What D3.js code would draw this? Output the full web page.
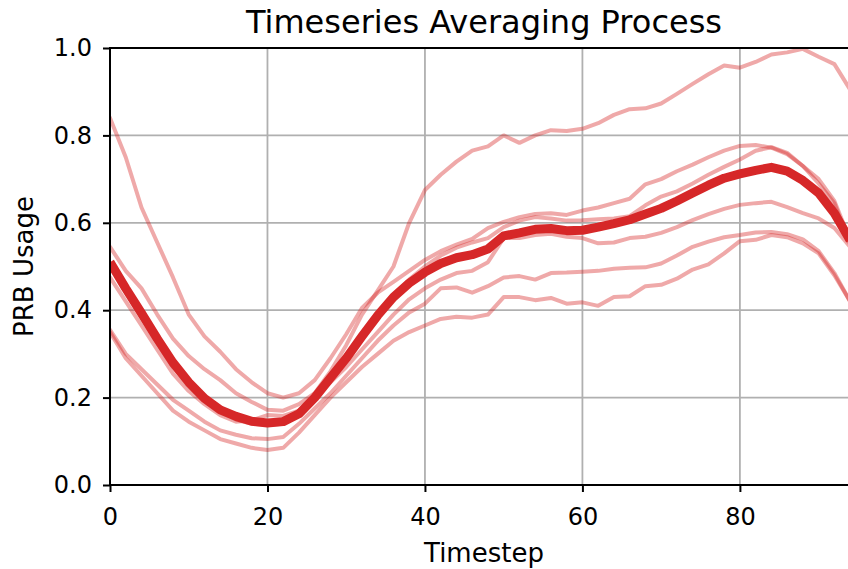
<!DOCTYPE html>
<html>
<head>
<meta charset="utf-8">
<script src="https://cdn.jsdelivr.net/npm/d3@7"></script>
<style>
  body { margin: 0; background: #fff; }
  svg { display: block; font-family: "DejaVu Sans", sans-serif; }
</style>
</head>
<body>
<svg id="chart"></svg>
<script>
const width = 848;
const height = 569;

// timestep index of every reading (every 2nd step)
const timesteps = d3.range(0, 95, 2);

// individual runs
const runA = [0.84, 0.75, 0.635, 0.555, 0.475, 0.39, 0.34, 0.305,
  0.265, 0.235, 0.21, 0.20, 0.21, 0.24, 0.29, 0.345,
  0.405, 0.44, 0.465, 0.49, 0.515, 0.535, 0.55, 0.563,
  0.588, 0.602, 0.613, 0.62, 0.622, 0.618, 0.628, 0.635,
  0.645, 0.655, 0.688, 0.70, 0.718, 0.733, 0.75, 0.765,
  0.776, 0.778, 0.772, 0.757, 0.73, 0.70, 0.65, 0.56];
const runB = [0.545, 0.49, 0.45, 0.39, 0.335, 0.295, 0.265, 0.24,
  0.21, 0.19, 0.172, 0.17, 0.185, 0.21, 0.26, 0.32,
  0.39, 0.445, 0.50, 0.60, 0.675, 0.71, 0.74, 0.765,
  0.775, 0.80, 0.783, 0.80, 0.812, 0.81, 0.815, 0.828,
  0.847, 0.86, 0.862, 0.873, 0.895, 0.918, 0.94, 0.96,
  0.955, 0.968, 0.985, 0.99, 0.998, 0.98, 0.963, 0.905];
const runC = [0.50, 0.445, 0.385, 0.325, 0.27, 0.23, 0.195, 0.17,
  0.15, 0.14, 0.137, 0.14, 0.16, 0.195, 0.24, 0.285,
  0.335, 0.385, 0.43, 0.47, 0.50, 0.525, 0.543, 0.555,
  0.565, 0.59, 0.605, 0.613, 0.61, 0.605, 0.606, 0.608,
  0.61, 0.615, 0.64, 0.66, 0.672, 0.69, 0.71, 0.728,
  0.745, 0.765, 0.773, 0.76, 0.73, 0.69, 0.645, 0.55];
const runD = [0.475, 0.42, 0.365, 0.31, 0.255, 0.215, 0.185, 0.16,
  0.145, 0.148, 0.16, 0.158, 0.17, 0.20, 0.235, 0.27,
  0.31, 0.35, 0.39, 0.425, 0.45, 0.47, 0.485, 0.49,
  0.51, 0.565, 0.565, 0.572, 0.575, 0.568, 0.565, 0.553,
  0.555, 0.565, 0.568, 0.577, 0.59, 0.606, 0.62, 0.632,
  0.641, 0.645, 0.648, 0.636, 0.622, 0.61, 0.588, 0.545];
const runE = [0.355, 0.30, 0.265, 0.23, 0.195, 0.17, 0.145, 0.125,
  0.115, 0.107, 0.105, 0.11, 0.14, 0.175, 0.21, 0.25,
  0.29, 0.33, 0.365, 0.395, 0.415, 0.45, 0.452, 0.44,
  0.455, 0.475, 0.478, 0.47, 0.485, 0.486, 0.488, 0.49,
  0.495, 0.497, 0.498, 0.507, 0.525, 0.545, 0.557, 0.567,
  0.572, 0.578, 0.579, 0.574, 0.562, 0.535, 0.485, 0.42];
const runF = [0.35, 0.29, 0.25, 0.21, 0.17, 0.145, 0.125, 0.105,
  0.095, 0.085, 0.08, 0.085, 0.12, 0.16, 0.20, 0.235,
  0.27, 0.30, 0.33, 0.35, 0.365, 0.38, 0.385, 0.383,
  0.39, 0.43, 0.43, 0.423, 0.428, 0.415, 0.418, 0.41,
  0.43, 0.432, 0.455, 0.458, 0.472, 0.493, 0.505, 0.53,
  0.558, 0.561, 0.572, 0.567, 0.553, 0.53, 0.48, 0.42];

// the averaged run (thick line)
const meanRun = [0.51, 0.45, 0.393, 0.335, 0.28, 0.235, 0.198, 0.172,
  0.157, 0.146, 0.142, 0.145, 0.163, 0.20, 0.245, 0.29,
  0.34, 0.388, 0.43, 0.462, 0.487, 0.507, 0.52, 0.527,
  0.54, 0.57, 0.577, 0.585, 0.587, 0.582, 0.583, 0.59,
  0.598, 0.607, 0.62, 0.633, 0.65, 0.668, 0.686, 0.702,
  0.712, 0.72, 0.727, 0.718, 0.697, 0.668, 0.622, 0.56];

const runs = [runA, runB, runC, runD, runE, runF];

const xTicks = [0, 20, 40, 60, 80];
const yTicks = [0.0, 0.2, 0.4, 0.6, 0.8, 1.0];

const plotLeft = 110, plotRight = 858, plotTop = 48, plotBottom = 485;

const svg = d3.select("#chart").attr("width", width).attr("height", height);

const x = d3.scaleLinear().domain([0, 95]).range([plotLeft, plotRight]);
const y = d3.scaleLinear().domain([0, 1]).range([plotBottom, plotTop]);

svg.append("defs").append("clipPath").attr("id", "plot-clip")
  .append("rect")
  .attr("x", plotLeft).attr("y", plotTop)
  .attr("width", plotRight - plotLeft).attr("height", plotBottom - plotTop);

// grid
const grid = svg.append("g").attr("class", "grid");
grid.selectAll(".vgrid")
  .data(xTicks)
  .enter()
  .append("line")
  .attr("x1", d => x(d)).attr("x2", d => x(d))
  .attr("y1", plotTop).attr("y2", plotBottom)
  .style("stroke", "#b0b0b0")
  .style("stroke-width", "1.8px");
grid.selectAll(".hgrid")
  .data(yTicks)
  .enter()
  .append("line")
  .attr("x1", plotLeft).attr("x2", plotRight)
  .attr("y1", d => y(d)).attr("y2", d => y(d))
  .style("stroke", "#b0b0b0")
  .style("stroke-width", "1.8px");

const line = d3.line()
  .x((d, i) => x(timesteps[i]))
  .y(d => y(d));

const lines = svg.append("g").attr("clip-path", "url(#plot-clip)");

lines.selectAll(".run")
  .data(runs)
  .enter()
  .append("path")
  .attr("class", "run")
  .attr("d", line)
  .style("fill", "none")
  .style("stroke", "#d62728")
  .style("stroke-opacity", 0.4)
  .style("stroke-width", "4px")
  .style("stroke-linejoin", "round")
  .style("stroke-linecap", "round");

lines.append("path")
  .datum(meanRun)
  .attr("d", line)
  .style("fill", "none")
  .style("stroke", "#d62728")
  .style("stroke-width", "9px")
  .style("stroke-linejoin", "round");

// axes
const xAxis = svg.append("g")
  .attr("transform", `translate(0,${plotBottom})`)
  .call(d3.axisBottom(x).tickValues(xTicks).tickSize(7).tickPadding(16).tickFormat(d3.format("d")));
const yAxis = svg.append("g")
  .attr("transform", `translate(${plotLeft},0)`)
  .call(d3.axisLeft(y).tickValues(yTicks).tickSize(7).tickPadding(11).tickFormat(d3.format(".1f")));

[xAxis, yAxis].forEach(ax => {
  ax.select(".domain").remove();
  ax.selectAll(".tick line").style("stroke", "#000").style("stroke-width", "2px");
  ax.selectAll(".tick text")
    .style("font-family", "DejaVu Sans")
    .style("font-size", "24px")
    .style("fill", "#000");
});

// spines
const spines = svg.append("g");
spines.append("line").attr("x1", plotLeft).attr("x2", plotLeft).attr("y1", plotTop - 1).attr("y2", plotBottom + 1);
spines.append("line").attr("x1", plotLeft - 1).attr("x2", plotRight).attr("y1", plotBottom).attr("y2", plotBottom);
spines.append("line").attr("x1", plotLeft - 1).attr("x2", plotRight).attr("y1", plotTop).attr("y2", plotTop);
spines.append("line").attr("x1", plotRight).attr("x2", plotRight).attr("y1", plotTop).attr("y2", plotBottom);
spines.selectAll("line").style("stroke", "#000").style("stroke-width", "2px");

// texts
svg.append("text")
  .attr("x", (plotLeft + plotRight) / 2)
  .attr("y", 33)
  .attr("text-anchor", "middle")
  .style("font-size", "32px")
  .text("Timeseries Averaging Process");

svg.append("text")
  .attr("x", (plotLeft + plotRight) / 2)
  .attr("y", 562)
  .attr("text-anchor", "middle")
  .style("font-size", "26px")
  .text("Timestep");

svg.append("text")
  .attr("transform", `translate(33,${(plotTop + plotBottom) / 2}) rotate(-90)`)
  .attr("text-anchor", "middle")
  .style("font-size", "26px")
  .text("PRB Usage");
</script>
</body>
</html>
